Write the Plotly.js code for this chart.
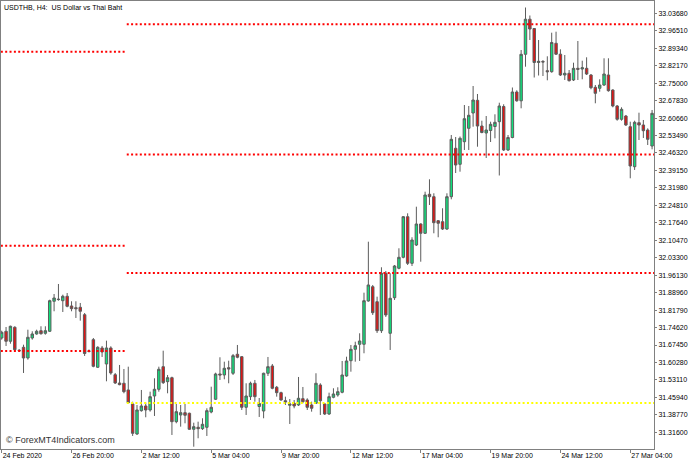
<!DOCTYPE html>
<html><head><meta charset="utf-8">
<script src="https://cdn.plot.ly/plotly-3.0.1.min.js"></script>
<style>html,body{margin:0;padding:0;background:#fff;overflow:hidden}#chart{width:696px;height:463px}</style>
</head><body><div id="chart"></div>
<script>
// USDTHB H4 candles (bar index 0 = first visible bar)
const openP = [31.7033,31.7309,31.6898,31.7473,31.6528,31.6651,31.6212,31.7033,31.7198,31.7333,
31.7226,31.7309,31.8541,31.8610,31.8565,31.8746,31.8348,31.8278,31.8294,31.7990,
31.6500,31.6964,31.5830,31.6623,31.5966,31.6623,31.5526,31.5185,31.5173,31.4898,
31.4323,31.3091,31.4048,31.4241,31.4077,31.4651,31.4927,31.5855,31.5239,31.5403,
31.3596,31.3871,31.3966,31.3941,31.3284,31.3366,31.3309,31.3366,31.3994,31.4516,
31.5555,31.5514,31.5814,31.5584,31.6364,31.6265,31.4187,31.4623,31.5173,31.4220,
31.4035,31.5584,31.5884,31.5009,31.4787,31.4458,31.4270,31.4352,31.4282,31.4541,
31.4487,31.4282,31.4352,31.5103,31.4323,31.3912,31.4598,31.4693,31.4803,31.5473,
31.6101,31.6569,31.6775,31.6775,31.8553,31.9140,31.8524,31.7333,31.9691,31.7226,
31.8688,31.9896,32.0347,32.2014,32.0101,32.0852,32.1715,32.1333,32.2935,32.2836,
32.1850,32.1809,32.1509,32.2836,32.4824,32.4167,32.5095,32.5645,32.6273,32.6795,
32.5739,32.5452,32.5555,32.5719,32.5916,32.6540,32.4754,32.5267,32.7136,32.6774,
32.8684,33.0125,32.9744,32.8347,32.8388,32.8010,32.7969,32.9136,32.8688,32.7834,
32.7904,32.7629,32.8109,32.8080,32.8109,32.7834,32.7329,32.7288,32.7423,32.7834,
32.7218,32.6561,32.6015,32.6150,32.5711,32.4068,32.5875,32.5781,32.5575,32.4918];
const highP = [31.7333,31.7485,31.7539,31.7514,31.6582,31.6758,31.7374,31.7309,31.7374,31.7514,
31.7514,31.8606,31.8840,31.9251,31.8812,31.8881,31.8541,31.8541,31.8471,31.8060,
31.6561,31.7033,31.6693,31.6705,31.6923,31.6693,31.5596,31.5925,31.5760,31.5855,
31.4417,31.4282,31.4898,31.4376,31.4828,31.5378,31.5855,31.6512,31.5514,31.5444,
31.4323,31.4282,31.4323,31.3966,31.3555,31.3596,31.3736,31.4146,31.5033,31.5608,
31.6241,31.6060,31.6101,31.6376,31.6746,31.6294,31.5173,31.5239,31.5309,31.4569,
31.5608,31.6253,31.5966,31.5062,31.4828,31.4623,31.4528,31.4487,31.5432,31.5021,
31.4557,31.4417,31.5584,31.5173,31.4352,31.4787,31.4968,31.5009,31.6089,31.6265,
31.6746,31.6881,31.7226,31.8894,32.0988,31.9210,31.8730,31.9937,31.9785,31.9691,
32.0031,32.0717,32.2043,32.2154,32.1169,32.2425,32.1744,32.3041,32.3550,32.2976,
32.1879,32.2360,32.2976,32.5370,32.5288,32.5308,32.6602,32.6561,32.7382,32.7054,
32.5957,32.6150,32.5916,32.6220,32.6696,32.6631,32.5370,32.7321,32.7206,32.8861,
33.0606,33.0277,32.9764,32.9271,32.8450,32.8602,32.9571,32.9612,32.8889,32.8655,
32.8039,32.8339,32.9230,32.8421,32.8561,32.7875,32.7423,32.7657,32.8520,32.8520,
32.7247,32.6602,32.6507,32.6192,32.5916,32.5957,32.6286,32.5986,32.5645,32.6397];
const lowP = [31.6964,31.6705,31.6799,31.6487,31.6458,31.5596,31.6142,31.6964,31.7169,31.7169,
31.7169,31.7280,31.8130,31.8565,31.8101,31.8294,31.8130,31.7855,31.7744,31.6294,
31.6438,31.5830,31.5801,31.6253,31.5255,31.5526,31.5144,31.5091,31.4762,31.4352,
31.3009,31.3050,31.4007,31.3777,31.4007,31.3830,31.4828,31.5144,31.4762,31.3050,
31.3530,31.3391,31.3530,31.3255,31.2569,31.2914,31.3255,31.3009,31.3941,31.4487,
31.5309,31.5337,31.5173,31.5514,31.6200,31.4077,31.3871,31.4487,31.4417,31.3789,
31.3736,31.5473,31.4927,31.4623,31.4458,31.4282,31.3502,31.4146,31.4241,31.4352,
31.4077,31.4007,31.4323,31.3871,31.3871,31.3871,31.4557,31.4623,31.4762,31.5444,
31.5649,31.6060,31.6089,31.6405,31.8524,31.7978,31.7239,31.7239,31.7896,31.6541,
31.8594,31.9855,32.0306,32.0031,31.9990,32.0811,32.0166,32.1304,32.2495,32.1333,
32.1169,32.1468,32.1468,32.2729,32.3809,32.3863,32.4754,32.4754,32.5711,32.4889,
32.5440,32.4425,32.5082,32.5234,32.3707,32.4713,32.4713,32.5234,32.6737,32.6466,
32.8175,32.9271,32.7731,32.7813,32.7793,32.7616,32.7928,32.8655,32.7793,32.7629,
32.7567,32.7588,32.7629,32.7657,32.7834,32.7247,32.6672,32.7148,32.7382,32.7148,
32.6507,32.5957,32.5957,32.5739,32.3592,32.3933,32.5164,32.5247,32.4959,32.4783];
const closeP = [31.7267,31.6898,31.7514,31.6553,31.6512,31.6212,31.7062,31.7198,31.7309,31.7210,
31.7333,31.8565,31.8676,31.8623,31.8746,31.8335,31.8237,31.8237,31.8130,31.6397,
31.6487,31.5871,31.6651,31.6458,31.6623,31.5596,31.5185,31.5116,31.4828,31.4376,
31.3120,31.4077,31.4241,31.4077,31.4623,31.4927,31.5748,31.5198,31.5403,31.3596,
31.4007,31.3966,31.3859,31.3284,31.3391,31.3309,31.3489,31.4048,31.4187,31.5555,
31.5514,31.5789,31.5760,31.6307,31.6241,31.4187,31.4651,31.5173,31.4623,31.4343,
31.5584,31.5855,31.4968,31.4787,31.4487,31.4405,31.4323,31.4241,31.4557,31.4417,
31.4187,31.4146,31.5173,31.4458,31.3912,31.4623,31.4734,31.4828,31.5514,31.6089,
31.6569,31.6717,31.6910,31.8565,31.9210,31.8072,31.7333,31.9691,31.7978,31.8664,
31.9990,32.0347,32.2014,32.0101,32.1058,32.1715,32.1333,32.2906,32.2836,32.1768,
32.1744,32.1509,32.2836,32.5193,32.4138,32.5234,32.6039,32.6179,32.6807,32.5739,
32.5473,32.5575,32.5809,32.5891,32.6561,32.4754,32.5267,32.7136,32.6774,32.8684,
33.0125,32.9723,32.8347,32.8397,32.8368,32.7969,32.9169,32.8688,32.7834,32.7904,
32.7600,32.8109,32.8068,32.8134,32.7875,32.7312,32.7082,32.7423,32.7875,32.7189,
32.6561,32.6015,32.6425,32.5781,32.4097,32.5891,32.5781,32.5546,32.5193,32.6261];

// date axis labels, placed on bar indices
const dateTickBars = [0,16,32,48,64,80,96,112,128,144];
const dateTickLabels = ["24 Feb 2020","26 Feb 20:00","2 Mar 12:00","5 Mar 04:00","9 Mar 20:00",
  "12 Mar 12:00","17 Mar 04:00","19 Mar 20:00","24 Mar 12:00","27 Mar 04:00"];
// price axis labels
const priceTickLabels = ["33.03680","32.96510","32.89340","32.82170","32.75000","32.67830","32.60660",
  "32.53490","32.46320","32.39150","32.31980","32.24810","32.17640","32.10470","32.03300","31.96130",
  "31.88960","31.81790","31.74620","31.67450","31.60280","31.53110","31.45940","31.38770","31.31600"];

// pivot levels: previous week (bars 0..28) and current week (bars 29..)
const prevWeekLevels = [32.8791, 32.0824, 31.6500];
const thisWeekRedLevels = [32.9916, 32.4569, 31.9703];
const thisWeekYellowLevels = [31.4364];
const prevWeekSpan = [-0.2, 28.25];
const thisWeekSpan = [28.65, 149.6];

const idx = openP.map((_, i) => i);

const traces = [{
  type: 'candlestick', x: idx, open: openP, high: highP, low: lowP, close: closeP,
  increasing: {line: {color: '#5c5c5c', width: 1}, fillcolor: '#10e07c'},
  decreasing: {line: {color: '#5c5c5c', width: 1}, fillcolor: '#e01414'},
  whiskerwidth: 0, hoverinfo: 'skip'
}];
function levelTrace(span, lvl, color) {
  return {type: 'scatter', mode: 'lines', x: span, y: [lvl, lvl],
    line: {color: color, width: 2, dash: '2px,2.35px'}, hoverinfo: 'skip'};
}
prevWeekLevels.forEach(l => traces.push(levelTrace(prevWeekSpan, l, '#ff0000')));
thisWeekRedLevels.forEach(l => traces.push(levelTrace(thisWeekSpan, l, '#ff0000')));
thisWeekYellowLevels.forEach(l => traces.push(levelTrace(thisWeekSpan, l, '#ffff00')));

const axisFont = {family: 'Liberation Sans, Arial, sans-serif', size: 7, color: '#000'};
const layout = {
  width: 696, height: 463,
  margin: {l: 1, r: 42, t: 1, b: 14, pad: 0},
  paper_bgcolor: '#fff', plot_bgcolor: '#fff',
  showlegend: false, hovermode: false,
  boxgap: 0.2,
  xaxis: {
    type: 'linear', range: [-0.16, 149.44], fixedrange: true,
    rangeslider: {visible: false},
    showgrid: false, zeroline: false,
    showline: true, linecolor: '#808080', linewidth: 1, mirror: true,
    tickmode: 'array', tickvals: dateTickBars, ticktext: dateTickLabels,
    ticks: 'outside', ticklen: 3, tickcolor: '#808080', tickwidth: 1,
    ticklabelposition: 'outside right',
    tickfont: axisFont
  },
  yaxis: {
    side: 'right', range: [31.2474, 33.0873], fixedrange: true,
    showgrid: false, zeroline: false,
    showline: true, linecolor: '#808080', linewidth: 1, mirror: true,
    tickmode: 'array', tickvals: priceTickLabels.map(Number), ticktext: priceTickLabels,
    ticks: 'outside', ticklen: 2, tickcolor: '#808080', tickwidth: 1,
    tickfont: axisFont
  },
  annotations: [
    {xref: 'paper', yref: 'paper', x: 0, y: 1, xanchor: 'left', yanchor: 'top',
     xshift: 1, yshift: -1, showarrow: false, text: 'USDTHB, H4:  US Dollar vs Thai Baht',
     font: {family: 'Liberation Sans, Arial, sans-serif', size: 7, color: '#000'}},
    {xref: 'paper', yref: 'paper', x: 0, y: 0, xanchor: 'left', yanchor: 'bottom',
     xshift: 3, yshift: 2, showarrow: false, text: '© ForexMT4Indicators.com',
     font: {family: 'Liberation Sans, Arial, sans-serif', size: 9, color: '#333'}}
  ]
};
Plotly.newPlot('chart', traces, layout, {staticPlot: true, displayModeBar: false});
</script>
</body></html>
